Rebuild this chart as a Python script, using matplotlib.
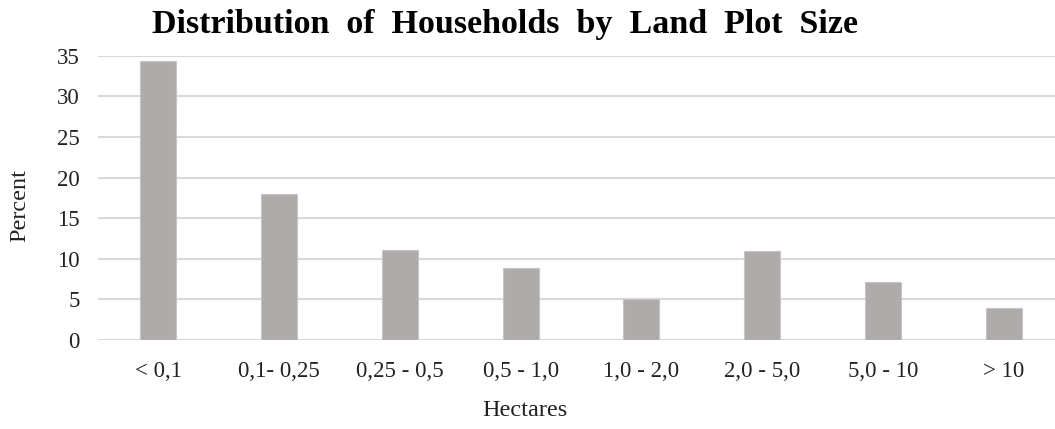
import matplotlib.pyplot as plt
import numpy as np

# Land plot size categories (hectares) and share of households (%)
categories = ['< 0,1', '0,1- 0,25', '0,25 - 0,5', '0,5 - 1,0',
              '1,0 - 2,0', '2,0 - 5,0', '5,0 - 10', '> 10']
percent = [34.3, 18.0, 11.1, 8.9, 5.0, 10.9, 7.2, 4.0]
y_ticks = [0, 5, 10, 15, 20, 25, 30, 35]
title = 'Distribution of Households by Land Plot Size'

plt.rcParams['font.family'] = ['Liberation Serif', 'DejaVu Serif']

W, H = 1055, 429
fig = plt.figure(figsize=(W / 100, H / 100), dpi=100)

# Plot area in pixel terms: left 98, bottom gridline at 340, top at 55.7
left, right = 98, 1064
top, bottom = 55.7, 340
ax = fig.add_axes([left / W, (H - bottom) / H, (right - left) / W, (bottom - top) / H])

x = np.arange(len(categories))
ax.bar(x, percent, width=0.30, color='#AEABAA', edgecolor='#C8C6C5',
       linewidth=0.8, zorder=3)

ax.set_xlim(-0.5, len(categories) - 0.5)
ax.set_ylim(0, 35)
ax.set_yticks(y_ticks)
ax.set_xticks(x)
ax.set_xticklabels(categories)
ax.tick_params(axis='both', length=0, labelsize=16.5, colors='#222222')
ax.tick_params(axis='y', pad=13)
ax.tick_params(axis='x', pad=15)

ax.grid(axis='y', color='#D9D9D9', linewidth=1.5, zorder=0)
ax.set_axisbelow(True)
for s in ax.spines.values():
    s.set_visible(False)

fig.text(20 / W, (H - 205) / H, 'Percent', rotation=90, ha='center',
         va='center', fontsize=17.5, color='#222222')
fig.text(525 / W, (H - 410) / H, 'Hectares', ha='center', va='center',
         fontsize=17.5, color='#222222')
# the original title is set wide, so words get a double space
fig.text(505 / W, (H - 25) / H, title.replace(' ', '  '),
         ha='center', va='center', fontsize=24.5, fontweight='bold',
         color='black')

fig.savefig('out.png', dpi=100)
